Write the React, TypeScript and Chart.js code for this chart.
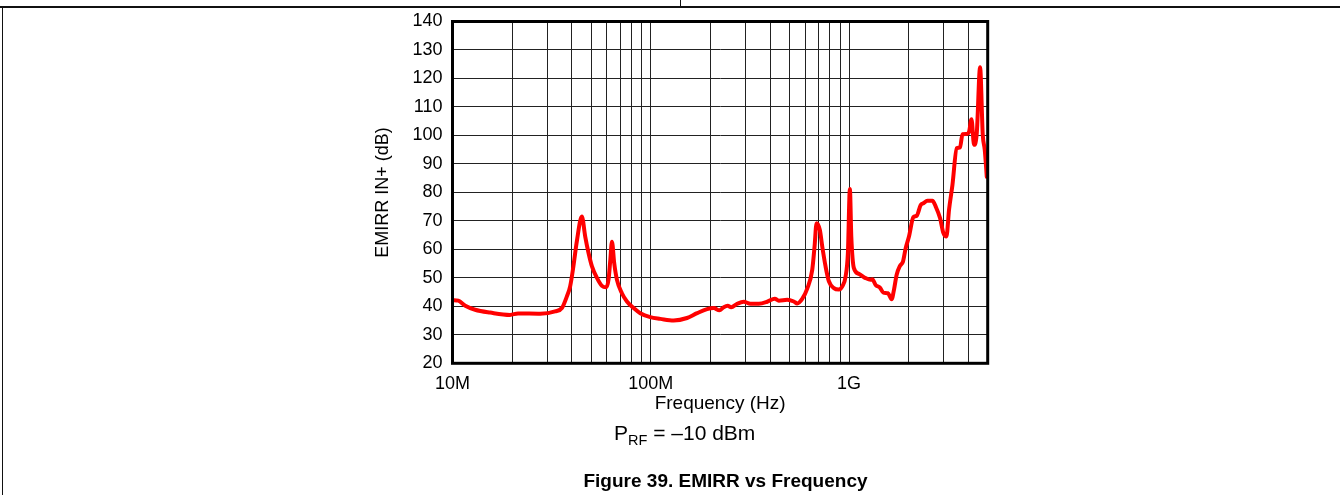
import React, { useEffect, useRef } from "react";
import { Chart, registerables } from "chart.js";

Chart.register(...registerables);

// Frequency in MHz
const freqMHz = [
  10, 10.7, 11.6, 13.0, 15.5, 19.5, 21.4, 27.7, 32.9, 35.7, 37.7, 39.2, 40.7, 42.4, 44.9,
  46.7, 48.5, 50.5, 53.5, 56.7, 59.6, 61.2, 62.5, 63.7, 65.4, 67.5, 71.5, 75.8, 81.9, 88.5,
  99.4, 111.7, 130.4, 152.3, 171.2, 192.2, 207.6, 221.8, 233.2, 244.3, 254.2, 272.6, 294.2,
  318.0, 350.4, 386.3, 422.0, 442.1, 487.5, 526.3, 547.5, 580.2, 615.0, 651.8, 669.6, 685.4,
  712.1, 732.2, 760.9, 790.7, 838.0, 888.2, 924.1, 960.2, 986.1, 1009.3, 1025.9, 1057.3,
  1120.6, 1211.5, 1284.1, 1309.8, 1360.9, 1430.5, 1488.1, 1570.3, 1639.1, 1683.7, 1737.3,
  1805.3, 1869.3, 1929.1, 2004.4, 2109.6, 2192.2, 2296.6, 2369.8, 2482.6, 2631.4, 2734.5,
  2874.6, 2990.7, 3096.6, 3191.5, 3320.4, 3490.5, 3627.3, 3729.8, 3921.0, 4028.0, 4141.8,
  4268.6, 4404.4, 4576.5, 4722.1, 4833.2, 4946.9,
];

// EMIRR IN+ in dB
const emirrDb = [
  42.2, 42.0, 40.2, 38.8, 37.8, 37.0, 37.5, 37.4, 38.2, 39.5, 43.4, 47, 54, 63, 71.5,
  64.5, 58.8, 54, 50, 47.2, 46.7, 49.3, 56.3, 62.7, 55.1, 49.3, 44.6, 41.7, 39.4, 37.6,
  36.2, 35.6, 35.0, 35.9, 37.6, 39.0, 39.4, 38.6, 39.7, 40.2, 39.7, 40.9, 41.6,
  40.9, 40.9, 41.6, 42.7, 42.0, 42.3, 41.7, 41.0, 42.6, 46.2, 52.8, 61, 69.2,
  66.8, 61.0, 54.0, 48.8, 46.4, 45.9, 47.0, 50.5, 58.7, 81.2, 64.5, 53.4,
  51.4, 49.9, 49.3, 49.5, 47.5, 46.6, 44.8, 44.6, 42.5, 45.8, 51.1,
  54.2, 55.7, 60.4, 64.5, 71.3, 71.8, 75.6, 76.2, 77.1, 77.1, 75,
  71, 65.7, 64.5, 73.9, 82.6, 95.5, 95.8, 100.4, 100.5, 101.3, 105.7,
  96.7, 100.8, 123.9, 100.2, 94.9, 85.5,
];

// Grid line positions (MHz) and labelled ticks
const gridFreqsMHz = [
  10, 20, 30, 40, 50, 60, 70, 80, 90,
  100, 200, 300, 400, 500, 600, 700, 800, 900,
  1000, 2000, 3000, 4000, 5000,
];
const xTickValues = [10, 100, 1000];
const xTickLabels = ["10M", "100M", "1G"];

const yMin = 20;
const yMax = 140;
const yStep = 10;

const FONT = '"Liberation Sans", Arial, Helvetica, sans-serif';

const framePlugin = {
  id: "frame",
  afterDatasetsDraw(chart: any) {
    const { ctx, chartArea } = chart;
    const { left, top, right, bottom } = chartArea;
    ctx.save();
    ctx.strokeStyle = "#000";
    ctx.lineWidth = 3;
    ctx.strokeRect(left, top, right - left, bottom - top);
    ctx.restore();
  },
};

export default function App() {
  const canvasRef = useRef<HTMLCanvasElement | null>(null);

  useEffect(() => {
    if (!canvasRef.current) return;
    const data = freqMHz.map((f, i) => ({ x: f, y: emirrDb[i] }));
    const chart = new Chart(canvasRef.current, {
      type: "line",
      data: {
        datasets: [
          {
            data,
            borderColor: "#ff0000",
            borderWidth: 4,
            pointRadius: 0,
            fill: false,
            cubicInterpolationMode: "monotone",
            borderJoinStyle: "round",
            borderCapStyle: "round",
          },
        ],
      },
      options: {
        animation: false,
        responsive: false,
        devicePixelRatio: 1,
        parsing: false as any,
        layout: { padding: { left: 0, top: 21.5, right: 352.3, bottom: 0 } },
        plugins: { legend: { display: false }, tooltip: { enabled: false } },
        scales: {
          x: {
            type: "logarithmic",
            min: 10,
            max: 5000,
            afterBuildTicks: (s: any) => {
              s.ticks = gridFreqsMHz.map((v) => ({ value: v }));
            },
            afterFit: (s: any) => {
              s.height = 131.7;
            },
            grid: { color: "#222", lineWidth: 1, drawTicks: false },
            border: { display: false },
            ticks: {
              autoSkip: false,
              maxRotation: 0,
              minRotation: 0,
              padding: 10,
              color: "#000",
              font: { family: FONT, size: 18 },
              callback: (v: any) => {
                const idx = xTickValues.indexOf(Number(v));
                return idx >= 0 ? xTickLabels[idx] : "";
              },
            },
            title: {
              display: true,
              text: "Frequency (Hz)",
              color: "#000",
              font: { family: FONT, size: 19 },
              padding: { top: 0, bottom: 79.5 },
            },
          },
          y: {
            type: "linear",
            min: yMin,
            max: yMax,
            afterFit: (s: any) => {
              s.width = 452.5;
            },
            grid: { color: "#222", lineWidth: 1, drawTicks: false },
            border: { display: false },
            ticks: {
              stepSize: yStep,
              padding: 10,
              color: "#000",
              font: { family: FONT, size: 18 },
            },
            title: {
              display: true,
              text: "EMIRR IN+ (dB)",
              color: "#000",
              font: { family: FONT, size: 18 },
              padding: { top: 372, bottom: 0 },
            },
          },
        },
      },
      plugins: [framePlugin],
    } as any);
    return () => chart.destroy();
  }, []);

  return (
    <div
      style={{
        position: "fixed",
        left: 0,
        top: 0,
        width: 1340,
        height: 495,
        background: "#fff",
        overflow: "hidden",
        fontFamily: FONT,
        color: "#000",
      }}
    >
      {/* page table borders */}
      <div style={{ position: "absolute", left: 0, top: 6, width: 1340, height: 2, background: "#111" }} />
      <div style={{ position: "absolute", left: 680, top: 0, width: 1, height: 7, background: "#111" }} />
      <div style={{ position: "absolute", left: 2, top: 7, width: 1, height: 488, background: "#111" }} />

      <canvas ref={canvasRef} width={1340} height={495} style={{ position: "absolute", left: 0, top: 0 }} />

      <div
        style={{
          position: "absolute",
          left: 614,
          top: 422,
          fontSize: 21,
          lineHeight: "21px",
          whiteSpace: "nowrap",
        }}
      >
        P
        <span style={{ fontSize: 14.5, position: "relative", top: 5 }}>RF</span>
        {" = –10 dBm"}
      </div>

      <div
        style={{
          position: "absolute",
          left: 725.5,
          top: 470.6,
          transform: "translateX(-50%)",
          fontSize: 19,
          lineHeight: "19px",
          fontWeight: "bold",
          whiteSpace: "nowrap",
        }}
      >
        Figure 39. EMIRR vs Frequency
      </div>
    </div>
  );
}
